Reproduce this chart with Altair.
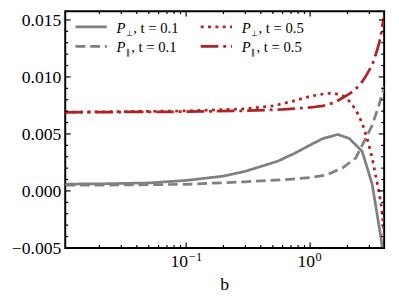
import altair as alt
import pandas as pd

# ---- data ----
b_perp01 = [0.0106, 0.02, 0.05, 0.1, 0.2, 0.3, 0.545, 0.75, 1.0, 1.27, 1.67, 2.07, 2.63, 3.16, 3.46, 3.74, 3.95]
v_perp01 = [0.00060, 0.00062, 0.00070, 0.00092, 0.00130, 0.00172, 0.00260, 0.00330, 0.00403, 0.00460, 0.00495, 0.00460, 0.00346, 0.00060, -0.00197, -0.00426, -0.0065]

b_par01 = [0.0106, 0.03, 0.1, 0.3, 0.6, 1.0, 1.35, 1.83, 2.33, 2.8, 3.16, 3.57, 3.9, 3.95]
v_par01 = [0.00050, 0.00052, 0.00058, 0.00080, 0.00098, 0.00117, 0.00140, 0.00203, 0.00289, 0.00460, 0.00575, 0.00746, 0.00890, 0.00920]

b_perp05 = [0.0106, 0.1, 0.3, 0.5, 0.74, 1.0, 1.35, 1.57, 1.83, 2.06, 2.26, 2.48, 2.72, 2.98, 3.16, 3.36, 3.57, 3.72, 3.86, 3.95]
v_perp05 = [0.0069, 0.00702, 0.00720, 0.00746, 0.00790, 0.00830, 0.00855, 0.00855, 0.00835, 0.00790, 0.00732, 0.00660, 0.00546, 0.00403, 0.00289, 0.00146, 0.00003, -0.00110, -0.00255, -0.00400]

b_par05 = [0.0106, 0.1, 0.3, 0.6, 1.0, 1.27, 1.57, 1.83, 2.1, 2.33, 2.56, 2.8, 3.16, 3.46, 3.67, 3.86, 3.95]
v_par05 = [0.0069, 0.00695, 0.00703, 0.00715, 0.00732, 0.00746, 0.00775, 0.00817, 0.00855, 0.00894, 0.00940, 0.01003, 0.01104, 0.01232, 0.01332, 0.01475, 0.01530]

series_names = ["perp01", "par01", "perp05", "par05"]
series_colors = ["#808080", "#808080", "#B22222", "#B22222"]
series_dashes = [[1, 0], [10, 5], [3, 4.5], [18, 5, 3, 5]]

y_major = [-0.005, 0.0, 0.005, 0.010, 0.015]
y_minor = [v / 1000 for v in range(-4, 16) if v % 5 != 0]
x_major = [0.1, 1.0]
x_minor = [0.02, 0.03, 0.04, 0.05, 0.06, 0.07, 0.08, 0.09,
           0.2, 0.3, 0.4, 0.5, 0.6, 0.7, 0.8, 0.9, 2.0, 3.0]

W, H = 326, 242
FONT = "Liberation Serif"

rows = []
for name, bs, vs in [("perp01", b_perp01, v_perp01), ("par01", b_par01, v_par01),
                     ("perp05", b_perp05, v_perp05), ("par05", b_par05, v_par05)]:
    for i, (b, v) in enumerate(zip(bs, vs)):
        rows.append({"series": name, "b": b, "v": v, "i": i})
df = pd.DataFrame(rows)

xscale = alt.Scale(type="log", domain=[0.0106, 3.95], nice=False)
yscale = alt.Scale(domain=[-0.005, 0.01577], nice=False, zero=False)

lines = alt.Chart(df).mark_line(strokeWidth=2.8, clip=True).encode(
    x=alt.X("b:Q", scale=xscale, axis=None),
    y=alt.Y("v:Q", scale=yscale, axis=None),
    color=alt.Color("series:N", scale=alt.Scale(domain=series_names, range=series_colors), legend=None),
    strokeDash=alt.StrokeDash("series:N", scale=alt.Scale(domain=series_names, range=series_dashes), legend=None),
    order="i:Q",
)

layers = [lines]

def xticks(vals, length):
    d = pd.DataFrame({"b": vals})
    base = alt.Chart(d).mark_rule(color="black", strokeWidth=1.2)
    bot = base.encode(x=alt.X("b:Q", scale=xscale, axis=None), y=alt.value(H), y2=alt.value(H - length))
    top = base.encode(x=alt.X("b:Q", scale=xscale, axis=None), y=alt.value(0), y2=alt.value(length))
    return [bot, top]

def yticks(vals, length):
    d = pd.DataFrame({"v": vals})
    base = alt.Chart(d).mark_rule(color="black", strokeWidth=1.2)
    left = base.encode(y=alt.Y("v:Q", scale=yscale, axis=None), x=alt.value(0), x2=alt.value(length))
    right = base.encode(y=alt.Y("v:Q", scale=yscale, axis=None), x=alt.value(W), x2=alt.value(W - length))
    return [left, right]

layers += xticks(x_major, 5.5) + xticks(x_minor, 3)
layers += yticks(y_major, 5.5) + yticks(y_minor, 3)

# y tick labels
ylab = alt.Chart(pd.DataFrame({"v": y_major})).mark_text(
    font=FONT, fontSize=18, align="right", baseline="middle", color="black", dy=1).encode(
    y=alt.Y("v:Q", scale=yscale, axis=None), x=alt.value(-4),
    text=alt.Text("v:Q", format=".3f"))
layers.append(ylab)

one = pd.DataFrame({"k": [0]})

def text(x, y, s, size, style="normal", align="left", baseline="alphabetic"):
    return alt.Chart(one).mark_text(font=FONT, fontSize=size, fontStyle=style, align=align,
                                    baseline=baseline, color="black").encode(
        x=alt.value(x), y=alt.value(y), text=alt.value(s))

# x tick labels with superscripts
def xlabel(bval, base_dx, sup, sup_dx):
    d = pd.DataFrame({"b": [bval]})
    t1 = alt.Chart(d).mark_text(font=FONT, fontSize=18, align="right", baseline="alphabetic",
                                dx=base_dx, color="black").encode(
        x=alt.X("b:Q", scale=xscale, axis=None), y=alt.value(262), text=alt.value("10"))
    t2 = alt.Chart(d).mark_text(font=FONT, fontSize=12.5, align="left", baseline="alphabetic",
                                dx=sup_dx, color="black").encode(
        x=alt.X("b:Q", scale=xscale, axis=None), y=alt.value(255), text=alt.value(sup))
    return [t1, t2]

layers += xlabel(0.1, 2, "\u22121", 3)
layers += xlabel(1.0, 5, "0", 5.5)
layers.append(text(W / 2, 285, "b", 18, align="center"))

# manual legend
legend_entries = [
    (10.5, 16, "perp01", "\u22a5", ", t = 0.1", 17),
    (10.5, 36, "par01", "\u2225", ", t = 0.1", 15),
    (138.5, 16, "perp05", "\u22a5", ", t = 0.5", 17),
    (138.5, 36, "par05", "\u2225", ", t = 0.5", 15),
]
for x0, y0, name, sub, rest, rest_dx in legend_entries:
    k = series_names.index(name)
    layers.append(alt.Chart(one).mark_rule(color=series_colors[k], strokeWidth=2.8,
                                           strokeDash=series_dashes[k]).encode(
        x=alt.value(x0), x2=alt.value(x0 + 32), y=alt.value(y0)))
    tx = x0 + 42
    layers.append(text(tx, y0 + 6, "P", 15, style="italic"))
    layers.append(text(tx + 9.5, y0 + 9, sub, 8.5))
    layers.append(text(tx + rest_dx, y0 + 6, rest, 15))

chart = alt.layer(*layers).properties(
    width=W, height=H,
    autosize=alt.AutoSizeParams(type="none"),
    padding={"left": 58.5, "top": 0, "right": 7, "bottom": 50},
).configure_view(stroke="black", strokeWidth=2)

chart.save("out.html", embed_options={"renderer": "svg", "actions": False})
